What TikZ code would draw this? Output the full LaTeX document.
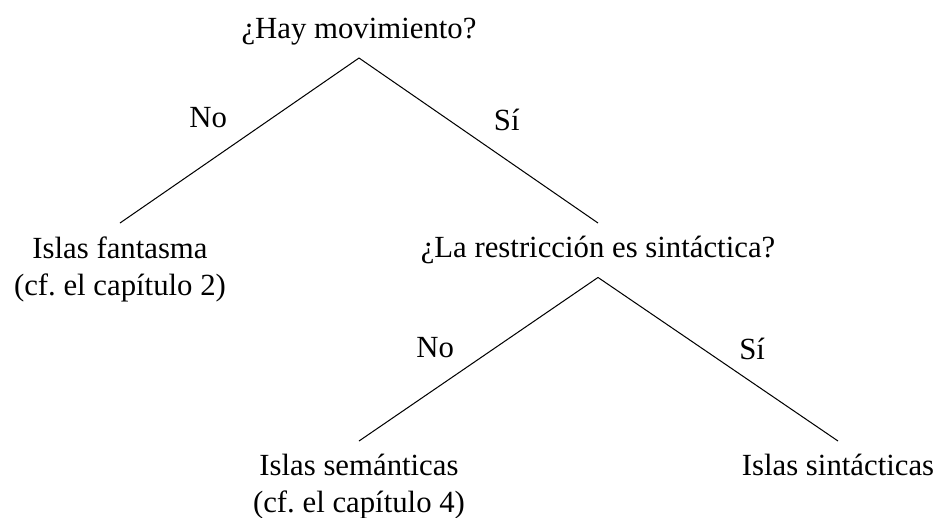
\documentclass[tikz,border=0pt]{standalone}
\usepackage{fontspec}
\setmainfont{Liberation Serif}

\begin{document}
\begin{tikzpicture}[x=0.39pt, y=-0.39pt,
    qnode/.style={inner sep=5pt, font=\fontsize{12}{14.5}\selectfont},
    edgelbl/.style={inner sep=0pt, font=\fontsize{12}{14.5}\selectfont}]
    \useasboundingbox (0,0) rectangle (939,517);
    % Questions and outcomes
    \node[qnode, anchor=south] (hay) at (359,58) {¿Hay movimiento?};
    \node[qnode, anchor=north, align=center] (fantasma) at (120,223) {Islas fantasma\\(cf.\ el capítulo 2)};
    \node[qnode, anchor=north] (restr) at (598,223) {¿La restricción es sintáctica?};
    \node[qnode, anchor=north, align=center] (seman) at (359,441) {Islas semánticas\\(cf.\ el capítulo 4)};
    \node[qnode, anchor=north] (sint) at (838,441) {Islas sintácticas};
    % Branches
    \draw (hay.south) -- node[edgelbl, pos=0.545, xshift=-8pt, yshift=11.7pt] {No} (fantasma.north);
    \draw (hay.south) -- node[edgelbl, pos=0.54, xshift=7.3pt, yshift=10.6pt] {Sí} (restr.north);
    \draw (restr.south) -- node[edgelbl, pos=0.6, xshift=-7.6pt, yshift=10.8pt] {No} (seman.north);
    \draw (restr.south) -- node[edgelbl, pos=0.576, xshift=6.2pt, yshift=9pt] {Sí} (sint.north);
\end{tikzpicture}
\end{document}
